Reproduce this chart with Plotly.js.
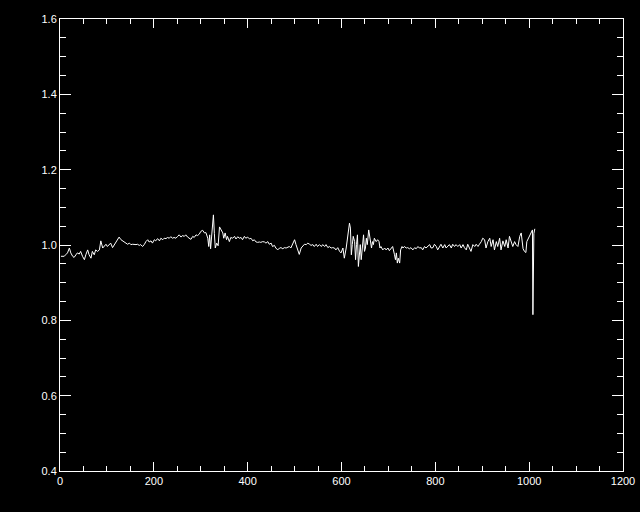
<!DOCTYPE html>
<html>
<head>
<meta charset="utf-8">
<script src="https://cdn.plot.ly/plotly-3.0.1.min.js"></script>
<style>
  html, body { margin: 0; padding: 0; background: #000; }
  #chart { width: 640px; height: 512px; }
</style>
</head>
<body>
<div id="chart"></div>
<script>
// Sample position (x) and signal value (y)
const xPos = [
  2, 9, 12, 16, 20, 23, 27, 30, 34, 37, 41, 44, 48, 52, 55, 59, 62, 66, 69, 73,
  76, 80, 84, 87, 91, 94, 98, 101, 105, 108, 112, 116, 119, 123, 126, 130, 133, 137, 140, 144,
  148, 151, 155, 158, 162,
  165, 169, 172, 176, 180, 183, 187, 190, 194, 197, 201, 204, 208, 212, 215, 219, 222, 226, 229, 233,
  236, 240, 243, 247, 251, 254, 258, 261, 265, 268, 272, 276, 279, 283, 286, 290, 293, 297, 300, 304,
  308, 311,
  315, 317, 319, 321, 323, 325, 327, 329, 331, 334, 337, 340, 343, 347, 349, 352, 355,
  357, 361, 364, 368, 372, 375, 379, 382, 386, 389, 393, 396, 400, 404, 407, 411, 414, 418, 421, 425,
  428, 432, 436, 439, 443, 446, 450, 453, 457, 460, 464, 468, 471, 475, 478, 482, 485, 489, 492, 496,
  500, 503, 507, 510,
  514, 517, 521, 525, 528, 532, 535, 539, 542, 546, 549, 553, 557, 560, 564, 567, 571, 574, 578, 581,
  585, 588, 592, 596, 599, 603, 606, 610, 613, 617, 619, 621, 623, 625, 628, 630, 632, 634, 636, 638,
  640, 642, 645, 647, 649, 651, 653, 655, 658, 660, 662, 664, 666, 668, 670, 674, 677,
  680, 682, 684, 688, 692, 695, 699, 702, 706, 709, 713, 715, 717, 719, 721, 724, 726, 729, 731, 734,
  738, 741, 745, 748, 752, 756, 759, 763, 766, 770, 773, 777, 780, 784, 788, 791, 795, 798, 802, 805,
  809, 812, 816, 820, 823, 827, 830, 834, 837, 841, 844, 848,
  852, 855, 859, 862, 866, 869, 873, 876, 880, 884, 887, 891, 894, 898, 901, 905, 908, 912, 916, 919,
  923, 926, 930, 933, 937, 940, 944, 948, 951, 955, 958, 962, 965, 969, 972, 976, 980, 983, 987, 990,
  993, 995, 998, 1001, 1004, 1006, 1007, 1008, 1010, 1012
];
const signal = [
  0.970, 0.970, 0.974, 0.979, 0.992, 0.979, 0.970, 0.967, 0.974, 0.979, 0.976, 0.983, 0.970, 0.961, 0.974, 0.987, 0.974, 0.965, 0.983, 0.974,
  0.987, 0.983, 0.987, 1.011, 0.992, 0.996, 1.002, 0.996, 1.001, 1.005, 0.993, 1.001, 1.009, 1.014, 1.021, 1.014, 1.011, 1.009, 1.005, 1.002,
  1.005, 1.001, 1.002, 1.001, 1.001,
  1.002, 0.999, 1.001, 0.996, 1.002, 1.009, 1.014, 1.008, 1.011, 1.005, 1.014, 1.011, 1.017, 1.011, 1.018, 1.014, 1.018, 1.017, 1.020, 1.018,
  1.022, 1.018, 1.020, 1.018, 1.023, 1.027, 1.021, 1.025, 1.023, 1.027, 1.021, 1.018, 1.015, 1.023, 1.020, 1.027, 1.025, 1.029, 1.036, 1.039,
  1.032, 1.033,
  1.018, 0.996, 1.027, 0.990, 1.018, 1.050, 1.080, 1.030, 0.992, 1.005, 0.998, 1.048, 1.040, 1.032, 1.018, 1.032, 1.014,
  1.023, 1.009, 1.020, 1.018, 1.023, 1.016, 1.022, 1.018, 1.020, 1.014, 1.023, 1.018, 1.021, 1.016, 1.018, 1.011, 1.014, 1.008, 1.007, 1.008,
  1.007, 1.009, 1.008, 1.005, 1.009, 1.002, 1.005, 0.996, 0.999, 0.992, 0.987, 0.992, 0.993, 0.990, 0.993, 0.992, 0.993, 0.996, 0.992, 1.001,
  1.014, 1.001, 0.983, 0.975,
  0.992, 0.996, 1.002, 1.001, 1.005, 1.002, 0.999, 1.001, 0.996, 1.002, 0.996, 1.001, 0.996, 1.001, 0.996, 1.001, 0.993, 0.996, 0.992, 0.993,
  0.992, 0.987, 0.993, 0.983, 0.979, 0.992, 0.965, 0.992, 1.018, 1.058, 1.045, 0.974, 1.001, 1.023, 1.009, 0.961, 1.001, 1.027, 0.943, 0.974,
  1.001, 0.961, 1.009, 1.027, 0.983, 0.992, 1.018, 1.001, 1.040, 1.027, 1.005, 0.992, 1.009, 1.001, 1.018, 1.009, 1.014,
  1.009, 0.992, 0.996, 0.987, 0.992, 0.987, 0.992, 0.985, 0.993, 0.996, 0.974, 0.961, 0.979, 0.952, 0.965, 0.952, 0.987, 0.996, 0.992, 0.996,
  0.992, 0.993, 0.990, 0.993, 0.987, 0.993, 0.990, 0.996, 0.992, 0.993, 0.987, 0.996, 0.992, 0.996, 1.001, 0.992, 0.993, 1.002, 0.996, 0.987,
  0.996, 1.002, 0.992, 1.001, 0.992, 0.996, 1.001, 0.992, 1.002, 0.996, 1.001, 0.996,
  1.001, 0.992, 1.001, 0.993, 0.987, 1.002, 0.992, 0.983, 1.001, 0.996, 1.002, 0.996, 1.002, 1.009, 1.018, 1.014, 0.992, 1.009, 1.018, 0.996,
  1.014, 0.987, 1.009, 0.996, 1.018, 0.987, 1.011, 0.996, 1.014, 0.992, 1.023, 1.009, 0.996, 1.009, 1.001, 0.996, 1.023, 1.032, 0.990, 0.983,
  0.980, 1.009, 1.018, 1.025, 1.035, 1.040, 1.040, 0.815, 1.030, 1.043
];
const xTickVals = [0, 200, 400, 600, 800, 1000, 1200];
const xTickText = ['0', '200', '400', '600', '800', '1000', '1200'];
const yTickVals = [0.4, 0.6, 0.8, 1.0, 1.2, 1.4, 1.6];
const yTickText = ['0.4', '0.6', '0.8', '1.0', '1.2', '1.4', '1.6'];

const trace = {
  x: xPos, y: signal, type: 'scatter', mode: 'lines',
  line: { color: '#ffffff', width: 1 }, hoverinfo: 'skip'
};

const axisCommon = {
  showgrid: false, zeroline: false, showline: true, linecolor: '#ffffff', linewidth: 1,
  ticks: 'inside', tickcolor: '#ffffff', tickwidth: 1, mirror: 'allticks',
  tickfont: { family: 'Liberation Sans, Arial, sans-serif', size: 11, color: '#ffffff' },
  tickmode: 'array'
};

const layout = {
  width: 640, height: 512,
  paper_bgcolor: '#000000', plot_bgcolor: '#000000',
  margin: { l: 60, r: 17, t: 19, b: 41, pad: 0 },
  showlegend: false,
  xaxis: Object.assign({}, axisCommon, {
    range: [0, 1200], tickvals: xTickVals, ticktext: xTickText, ticklen: 9,
    minor: { tickmode: 'linear', tick0: 0, dtick: 50, ticks: 'inside', ticklen: 5, tickcolor: '#ffffff', tickwidth: 1, showgrid: false }
  }),
  yaxis: Object.assign({}, axisCommon, {
    range: [0.4, 1.6], tickvals: yTickVals, ticktext: yTickText, ticklen: 11,
    minor: { tickmode: 'linear', tick0: 0.4, dtick: 0.05, ticks: 'inside', ticklen: 6, tickcolor: '#ffffff', tickwidth: 1, showgrid: false }
  })
};

Plotly.newPlot('chart', [trace], layout, { staticPlot: true, displayModeBar: false });
</script>
</body>
</html>
